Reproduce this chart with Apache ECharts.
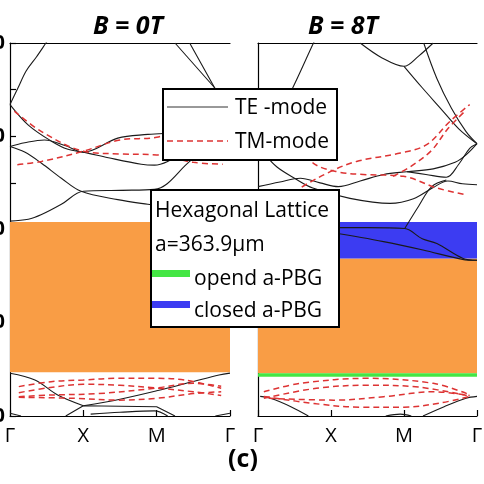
<!DOCTYPE html>
<html><head><meta charset="utf-8">
<script src="https://cdn.jsdelivr.net/npm/echarts/dist/echarts.min.js"></script>
<style>html,body{margin:0;padding:0;background:#fff}#c{width:484px;height:484px}</style>
</head><body><div id="c"></div>
<script>
// k-path ticks
const kPoints = [0, 1, 2, 3];
const kLabels = ['Γ', 'X', 'M', 'Γ'];
const yTicks = [0, 100, 200, 300, 400];
const yTickLabels = ['0', '100', '200', '300', '400'];
const panelTitles = ['B = 0T', 'B = 8T'];

// band gaps [low, high]
const gap0T = [47, 208];
const gapOrange8T = [45.8, 169];
const gapBlue8T = [169, 208];
const gapGreen8T = [42, 45.8];

// ---- B = 0T, TE (black) ----
const te0_a = [[0,334],[0.11,352],[0.22,370],[0.36,385],[0.49,400],[0.55,407]];
const te0_b = [[0,334],[0.25,312],[0.56,295],[0.79,286],[1,283],[1.34,277],[1.79,270],[1.97,269],[2.15,273],[2.3,281]];
const te0_c = [[0,289],[0.2,293],[0.47,296],[0.75,290],[1,283],[1.47,298],[1.88,302],[2.1,303]];
const te0_d = [[0,289],[0.2,283],[0.43,271],[0.7,255],[0.97,241],[1.47,232],[1.88,227],[2.0,226],[2.3,222]];
const te0_e = [[0,209],[0.25,211],[0.43,216],[0.7,227],[1,241],[1.5,242],[1.97,243],[2.45,273],[2.65,287]];
const te0_f = [[2.25,400],[2.79,352],[3,334]];
const te0_g = [[2.45,400],[2.79,352],[3,334]];
const te0_h = [[0,45.8],[0.34,38.6],[0.65,22.5],[1,11]];
const te0_i = [[1,11],[1.5,18],[2,27],[2.5,37],[2.85,44],[3,46]];
const te0_j = [[0.76,0],[1,11],[2,10],[2.25,0]];
const te0_k = [[1.1,2],[1.5,4],[1.97,5.5],[2.15,0]];
const te0_l = [[0,3],[0.15,0]];
const te0_m = [[2.8,0],[3,3]];

// ---- B = 0T, TM (red dashed) ----
const tm0_a = [[0.06,327],[0.43,305],[1,284],[1.5,281],[2,280],[2.5,272],[2.9,270]];
const tm0_b = [[0.1,269.5],[0.43,273],[1,284],[1.5,296],[2,299],[2.5,312],[3,327]];
const tm0_c = [[0.12,31.5],[0.56,36.8],[1,38.6],[1.48,40.4],[1.97,40.4],[2.38,38.6],[2.88,29.7]];
const tm0_d = [[0.12,25],[0.5,30],[1,34],[1.5,33],[2,30],[2.5,26],[2.88,22]];
const tm0_e = [[0.12,20.7],[0.56,22.5],[1.2,24],[1.97,29.7],[2.5,35],[2.88,32]];
const tm0_f = [[0.12,20],[0.88,19],[1.48,17],[2,19],[2.5,24],[2.88,26]];

// ---- B = 8T, TE (black) ----
const te8_a = [[0.2,310],[0.47,351],[0.76,400],[0.8,406]];
const te8_b = [[1.4,400],[1.7,384],[2,375],[2.2,386],[2.4,400]];
const te8_c = [[2,375],[2.25,352],[2.5,330],[2.75,308],[3,292]];
const te8_d = [[2.27,400],[2.45,362],[2.65,330],[2.85,305],[3,292]];
const te8_e = [[0.1,280],[0.26,267],[0.5,255],[0.75,244.5],[1.26,233.4],[1.81,228],[2.13,233],[2.4,245],[2.6,252],[2.8,249],[3,248]];
const te8_f = [[2.01,201],[2.2,225],[2.38,246],[2.58,253]];
const te8_g = [[0,246],[0.3,251],[0.58,255],[0.85,250],[1.1,246],[1.4,252],[1.72,259],[2.04,262],[2.4,265],[2.7,272],[2.85,280],[3,292]];
const te8_h = [[2.04,262],[2.3,259],[2.58,256],[2.75,270],[2.9,287],[3,292]];
const te8_i = [[1.0,202],[1.5,202],[2.01,201],[2.25,190],[2.45,185],[2.81,169],[3,167]];
const te8_j = [[1.0,197],[1.72,187],[2.26,178],[2.8,168],[3,167]];
const te8_k = [[0.03,21],[0.17,19],[0.45,10],[0.69,0]];
const te8_l = [[2.26,0],[2.55,10],[2.85,19],[3,21]];
const te8_m = [[1.75,0],[1.95,2],[2.1,0]];

// ---- B = 8T, TM (red dashed) ----
const tm8_a = [[0.6,290],[0.76,271],[1.08,262],[1.44,259],[1.99,257],[2.45,244.5],[2.86,237]];
const tm8_b = [[0.5,238],[0.58,244.5],[0.99,262],[1.35,273],[1.95,282],[2.31,291],[2.63,316],[2.9,334]];
const tm8_c = [[1.85,257],[2.1,268],[2.38,285],[2.6,308],[2.85,328]];
const tm8_d = [[0.08,26],[0.58,35],[1.5,40.4],[2.4,35],[2.86,24]];
const tm8_e = [[0.08,19],[0.8,29.7],[1.5,33],[2.2,31],[2.86,22]];
const tm8_f = [[0.15,19],[1.04,17],[1.72,20.7],[2.4,26],[2.9,22]];
const tm8_g = [[0.08,21],[0.8,13.1],[1.4,9.5],[2,9.5],[2.5,14],[2.9,21]];

const ORANGE = '#F99D45', BLUE = '#3C3CF2', GREEN = '#44E644', RED = '#DD3333', BLACK = '#1a1a1a';
const FONT = '"Open Sans", "Noto Sans", sans-serif';

function te(data, i, smooth) {
  return { type: 'line', xAxisIndex: i * 2, yAxisIndex: i, data: data, symbol: 'none', z: 3,
    smooth: smooth === undefined ? 0.35 : smooth, silent: true,
    lineStyle: { color: BLACK, width: 1.1 } };
}
function tm(data, i) {
  return { type: 'line', xAxisIndex: i * 2, yAxisIndex: i, data: data, symbol: 'none', z: 4,
    smooth: 0.35, silent: true,
    lineStyle: { color: RED, width: 1.5, type: [6, 4] } };
}
function area(i, ranges) {
  return { type: 'line', xAxisIndex: i * 2, yAxisIndex: i, data: [], z: 1, silent: true,
    markArea: { silent: true, data: ranges.map(r => [
      { xAxis: kPoints[0], yAxis: r[0][0], itemStyle: { color: r[1], opacity: 1 } },
      { xAxis: kPoints[kPoints.length - 1], yAxis: r[0][1] }]) } };
}

function xAx(grid, pos) {
  const bottom = pos === 'bottom';
  return { type: 'value', gridIndex: grid, position: pos, min: 0, max: 3, interval: 1,
    axisLine: { show: true, onZero: false, lineStyle: { color: '#000', width: 1.2 } },
    axisTick: { show: bottom, inside: true, length: 6, lineStyle: { color: '#000', width: 1.2 } },
    axisLabel: { show: bottom, margin: 10, fontSize: 20, color: '#000', fontFamily: FONT,
      formatter: v => kLabels[kPoints.indexOf(v)] || '' },
    splitLine: { show: false } };
}

const option = {
  animation: false,
  grid: [
    { left: 10, top: 43, width: 220, height: 373, containLabel: false, outerBoundsMode: 'none' },
    { left: 258, top: 43, width: 219, height: 373, containLabel: false, outerBoundsMode: 'none' }
  ],
  xAxis: [xAx(0, 'bottom'), xAx(0, 'top'), xAx(1, 'bottom'), xAx(1, 'top')],
  yAxis: [
    { type: 'value', gridIndex: 0, min: yTicks[0], max: yTicks[yTicks.length - 1], interval: 100,
      axisLine: { show: true, lineStyle: { color: '#000', width: 1.2 } },
      axisTick: { show: true, inside: true, length: 6, lineStyle: { color: '#000', width: 1.2 } },
      minorTick: { show: true, splitNumber: 2, length: 6, lineStyle: { color: '#000', width: 1.2 } },
      axisLabel: { margin: 5, fontSize: 20, fontWeight: 'bold', color: '#000', fontFamily: FONT,
        formatter: v => yTickLabels[yTicks.indexOf(v)] },
      splitLine: { show: false } },
    { type: 'value', gridIndex: 1, position: 'right', min: yTicks[0], max: yTicks[yTicks.length - 1], interval: 100,
      axisLine: { show: true, lineStyle: { color: '#000', width: 1.2 } },
      axisTick: { show: false }, axisLabel: { show: false }, splitLine: { show: false } }
  ],
  series: [
    area(0, [[gap0T, ORANGE]]),
    area(1, [[gapOrange8T, ORANGE], [gapBlue8T, BLUE], [gapGreen8T, GREEN]]),
    te(te0_a, 0), te(te0_b, 0), te(te0_c, 0), te(te0_d, 0), te(te0_e, 0),
    te(te0_f, 0, false), te(te0_g, 0, false), te(te0_h, 0), te(te0_i, 0),
    te(te0_j, 0, false), te(te0_k, 0), te(te0_l, 0, false), te(te0_m, 0, false),
    tm(tm0_a, 0), tm(tm0_b, 0), tm(tm0_c, 0), tm(tm0_d, 0), tm(tm0_e, 0), tm(tm0_f, 0),
    te(te8_a, 1), te(te8_b, 1), te(te8_c, 1), te(te8_d, 1), te(te8_e, 1), te(te8_f, 1),
    te(te8_g, 1), te(te8_h, 1), te(te8_i, 1), te(te8_j, 1), te(te8_k, 1), te(te8_l, 1), te(te8_m, 1),
    tm(tm8_a, 1), tm(tm8_b, 1), tm(tm8_c, 1), tm(tm8_d, 1), tm(tm8_e, 1), tm(tm8_f, 1), tm(tm8_g, 1)
  ],
  graphic: [
    { type: 'text', z: 100, style: { text: panelTitles[0], x: 128, y: 27, textAlign: 'center', textVerticalAlign: 'middle',
      font: 'italic bold 25px ' + FONT, fill: '#000' } },
    { type: 'text', z: 100, style: { text: panelTitles[1], x: 343, y: 27, textAlign: 'center', textVerticalAlign: 'middle',
      font: 'italic bold 25px ' + FONT, fill: '#000' } },
    { type: 'text', z: 100, style: { text: '(c)', x: 243, y: 460, textAlign: 'center', textVerticalAlign: 'middle',
      font: 'bold 25px ' + FONT, fill: '#000' } },
    // legend 1
    { type: 'rect', z: 100, shape: { x: 163, y: 89, width: 174, height: 71 }, style: { fill: '#fff', stroke: '#000', lineWidth: 2 } },
    { type: 'line', z: 101, shape: { x1: 167, y1: 107, x2: 228, y2: 107 }, style: { stroke: '#333', lineWidth: 1 } },
    { type: 'text', z: 101, style: { text: 'TE -mode', x: 235, y: 108, textAlign: 'left', textVerticalAlign: 'middle', font: '21px ' + FONT, fill: '#000' } },
    { type: 'line', z: 101, shape: { x1: 167, y1: 141, x2: 228, y2: 141 }, style: { stroke: RED, lineWidth: 1.5, lineDash: [6, 4] } },
    { type: 'text', z: 101, style: { text: 'TM-mode', x: 235, y: 142, textAlign: 'left', textVerticalAlign: 'middle', font: '21px ' + FONT, fill: '#000' } },
    // legend 2
    { type: 'rect', z: 100, shape: { x: 151, y: 190, width: 188, height: 137 }, style: { fill: '#fff', stroke: '#000', lineWidth: 2 } },
    { type: 'text', z: 101, style: { text: 'Hexagonal Lattice', x: 155, y: 211, textAlign: 'left', textVerticalAlign: 'middle', font: '21px ' + FONT, fill: '#000' } },
    { type: 'text', z: 101, style: { text: 'a=363.9μm', x: 155, y: 245, textAlign: 'left', textVerticalAlign: 'middle', font: '21px ' + FONT, fill: '#000' } },
    { type: 'rect', z: 101, shape: { x: 152, y: 270, width: 38, height: 7 }, style: { fill: GREEN } },
    { type: 'text', z: 101, style: { text: 'opend a-PBG', x: 194, y: 279, textAlign: 'left', textVerticalAlign: 'middle', font: '21px ' + FONT, fill: '#000' } },
    { type: 'rect', z: 101, shape: { x: 152, y: 301, width: 38, height: 7 }, style: { fill: BLUE } },
    { type: 'text', z: 101, style: { text: 'closed a-PBG', x: 194, y: 311, textAlign: 'left', textVerticalAlign: 'middle', font: '21px ' + FONT, fill: '#000' } }
  ]
};
const chart = echarts.init(document.getElementById('c'));
chart.setOption(option);
</script>
</body></html>
